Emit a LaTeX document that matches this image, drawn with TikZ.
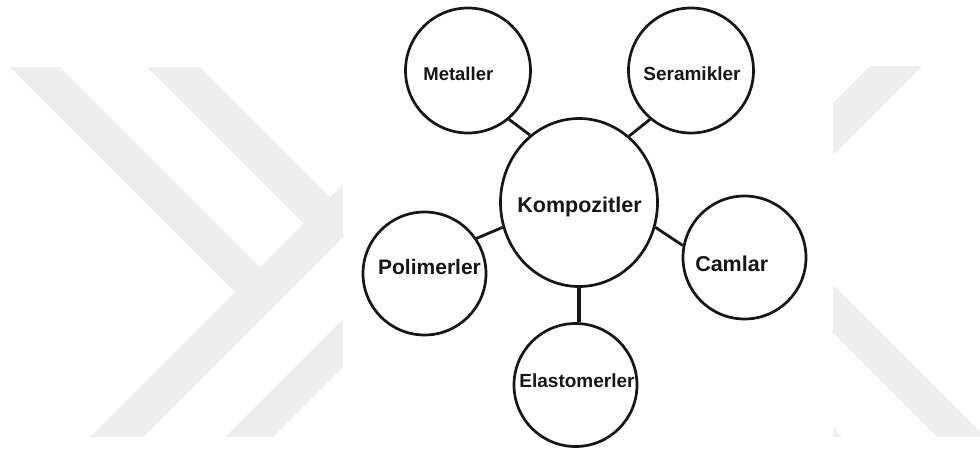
\documentclass[tikz,border=0pt]{standalone}
\usepackage{fontspec}
\setmainfont{Liberation Sans}
\usetikzlibrary{shapes.geometric}
\definecolor{wmgray}{RGB}{238,238,238}
\definecolor{inkblack}{RGB}{22,22,22}
\begin{document}
\begin{tikzpicture}[x=1pt,y=-1pt,
  bubble/.style={circle,draw=inkblack,line width=2.7pt,inner sep=0pt,minimum size=#1},
  hub/.style={ellipse,draw=inkblack,line width=2.7pt,inner sep=0pt,
    minimum width=157pt,minimum height=168pt},
  link/.style={draw=inkblack,line width=2.8pt},
  lbl/.style={anchor=base,inner sep=0pt,text=inkblack,
    font=\bfseries\fontsize{#1}{#1}\selectfont},
  band/.style={fill=wmgray,draw=none}]
\useasboundingbox (0,0) rectangle (980,453);
\clip (0,0) rectangle (980,453);

% light chevron bands in the background
\fill[band] (10,67) -- (60,67) -- (276.5,283.5) -- (251.5,308.5) -- cycle;
\fill[band] (147,67) -- (200,67) -- (344,211) -- (317.5,237.5) -- cycle;
\fill[band] (90,437) -- (143,437) -- (430,150) -- (377,150) -- cycle;
\fill[band] (225,437) -- (273,437) -- (460,250) -- (412,250) -- cycle;
\fill[band] (870,66) -- (922,66) -- (800,188) -- (800,136) -- cycle;
\fill[band] (800,252) -- (800,300) -- (937,437) -- (985,437) -- cycle;
\fill[band] (780,375) -- (780,423) -- (794,437) -- (842,437) -- cycle;

% white panel behind the diagram
\fill[white] (343,0) rectangle (833,453);

% bubbles
\node[hub] (komp) at (579,202.5) {};
\node[bubble=125pt] (met) at (468,70.5) {};
\node[bubble=125pt] (ser) at (691,70.5) {};
\node[bubble=123pt] (pol) at (424.5,273.5) {};
\node[bubble=123pt] (cam) at (744.5,257.5) {};
\node[bubble=123pt] (ela) at (575.5,385) {};

% connectors to the hub
\draw[link] (met.-50) -- (komp.126);
\draw[link] (ser.-130) -- (komp.53);
\draw[link] (pol.34) -- (komp.198);
\draw[link] (komp.-18) -- (cam.169);
\draw[link,line width=3.2pt] (komp.south) -- (komp.south |- ela.north);

% labels
\node[lbl=18.5] (tmet) at (458.3,80) {Metaller};
\node[lbl=19] (tser) at (692,80) {Seramikler};
\node[lbl=21.5] (tkomp) at (579.5,212) {Kompozitler};
\node[lbl=21] (tpol) at (429.5,274) {Polimerler};
\node[lbl=21.5] (tcam) at (731.7,271.7) {Camlar};
\node[lbl=19] (tela) at (577,387) {Elastomerler};
\end{tikzpicture}
\end{document}
